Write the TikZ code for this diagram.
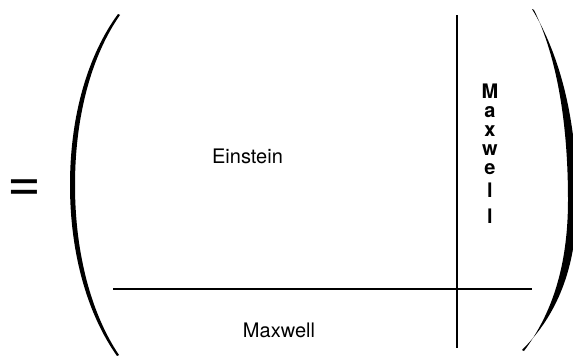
\documentclass[tikz,border=0pt]{standalone}
\usepackage{fontspec}
\setmainfont{TeX Gyre Heros}
\usetikzlibrary{positioning}

\begin{document}
\begin{tikzpicture}[x=1pt,y=-1pt,every node/.style={inner sep=0pt,outer sep=0pt},
lbl/.style={font=\fontsize{20}{22}\selectfont,anchor=base},
vlbl/.style={font=\fontsize{20}{19}\selectfont\bfseries,anchor=north},
rule/.style={line width=1.5pt}]
\useasboundingbox (0,0) rectangle (573,356);
% equals sign
\node[font=\fontsize{58}{60}\selectfont,anchor=base] (eq) at (24.5,201) {=};
% parentheses
\fill (118,14) .. controls (88,55) and (70,115) .. (70,185) .. controls (70,255) and (88,315) .. (117,356)
  -- (119,355) .. controls (92,315) and (75,255) .. (75,185) .. controls (75,115) and (92,55) .. (120,15) -- cycle;
\fill (532,9) .. controls (560,55) and (577,120) .. (577,200) .. controls (577,268) and (557,315) .. (522,350)
  -- (524,351) .. controls (551,315) and (568,268) .. (568,200) .. controls (568,120) and (556,55) .. (534,10) -- cycle;
% blocks
\coordinate (vtop) at (457,15);
\coordinate (vbot) at (457,348);
\coordinate (hl) at (113,289);
\coordinate (hr) at (532,289);
\draw[rule] (vtop) -- (vbot);
\draw[rule] (hl) -- (hr);
\node[lbl] (ein) at (247.5,163) {Einstein};
\node[lbl] (mxb) at (279,337) {Maxwell};
\node[vlbl] (mxr) at (490,84) {\begin{tabular}{@{}c@{}}M\\a\\x\\w\\e\\[3pt]l\\[5pt]l\end{tabular}};
\end{tikzpicture}
\end{document}
